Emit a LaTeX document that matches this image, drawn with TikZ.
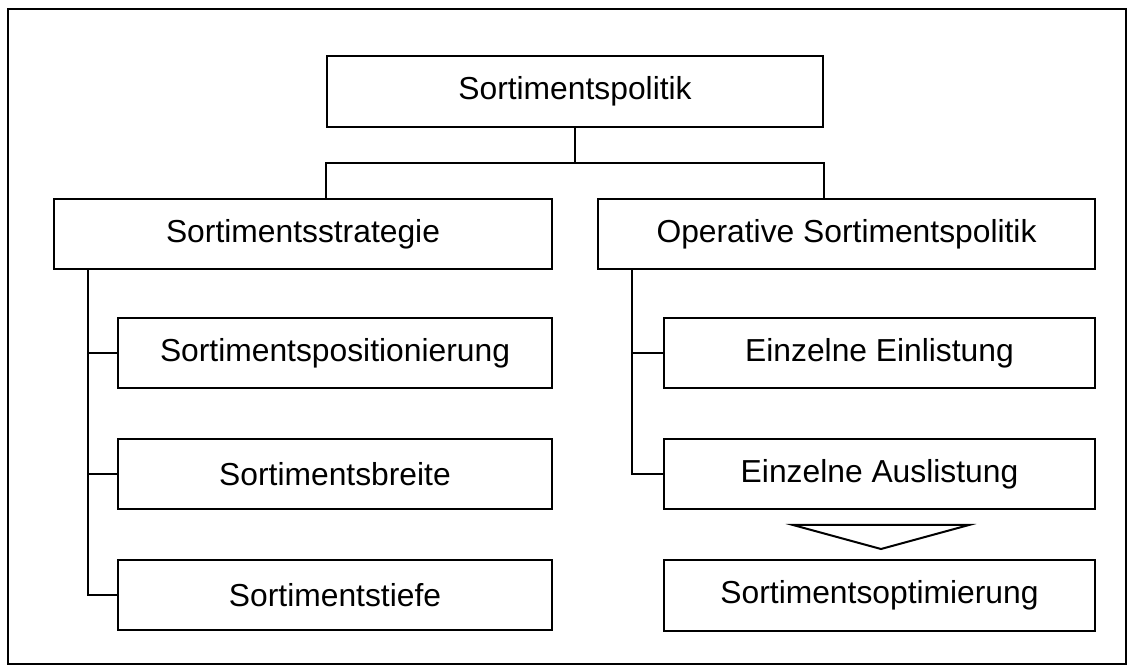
\documentclass[tikz,border=0pt]{standalone}
\usepackage{fontspec}
\setmainfont{Liberation Sans}
\begin{document}
\begin{tikzpicture}[x=0.5pt,y=-0.5pt,
  box/.style={draw=black, line width=1pt, rectangle, inner sep=0pt,
    font=\fontsize{15.9}{19}\selectfont},
  link/.style={draw=black, line width=0.75pt},
  frame/.style={draw=black, line width=1pt}]
\useasboundingbox (0,0) rectangle (1134,672);
\draw[frame] (8,9) rectangle (1126,664);

% boxes (centre, width, height in px)
\node[box, minimum width=248pt, minimum height=35.5pt] (top) at (575,91.5) {Sortimentspolitik};
\node[box, minimum width=249pt, minimum height=35pt] (sst) at (303,234) {Sortimentsstrategie};
\node[box, minimum width=248.5pt, minimum height=35pt] (osp) at (846.5,234) {Operative Sortimentspolitik};
\node[box, minimum width=217pt, minimum height=35pt] (pos) at (335,353) {Sortimentspositionierung};
\node[box, minimum width=217pt, minimum height=35pt] (brt) at (335,474) {Sortimentsbreite};
\node[box, minimum width=217pt, minimum height=35pt] (tfe) at (335,595) {Sortimentstiefe};
\node[box, minimum width=215.5pt, minimum height=35pt] (ein) at (879.5,353) {Einzelne Einlistung};
\node[box, minimum width=215.5pt, minimum height=35pt] (aus) at (879.5,474) {Einzelne Auslistung};
\node[box, minimum width=215.5pt, minimum height=35.5pt] (opt) at (879.5,595.5) {Sortimentsoptimierung};

% tree connectors
\coordinate (bus) at (575,163);
\coordinate (lx) at (88,0);
\coordinate (rx) at (632,0);
\draw[link] (top.south) -- (bus);
\draw[link] (sst.north -| top.west) |- (bus) -| (osp.north -| top.east);
\draw[link] (sst.south -| lx) |- (tfe.west);
\draw[link] (pos.west -| lx) -- (pos.west);
\draw[link] (brt.west -| lx) -- (brt.west);
\draw[link] (osp.south -| rx) |- (aus.west);
\draw[link] (ein.west -| rx) -- (ein.west);

% flat arrow between the last two boxes
\draw[link, line width=1pt, line join=miter] (793,525) -- (969,525) -- (881,549) -- cycle;
\end{tikzpicture}
\end{document}
